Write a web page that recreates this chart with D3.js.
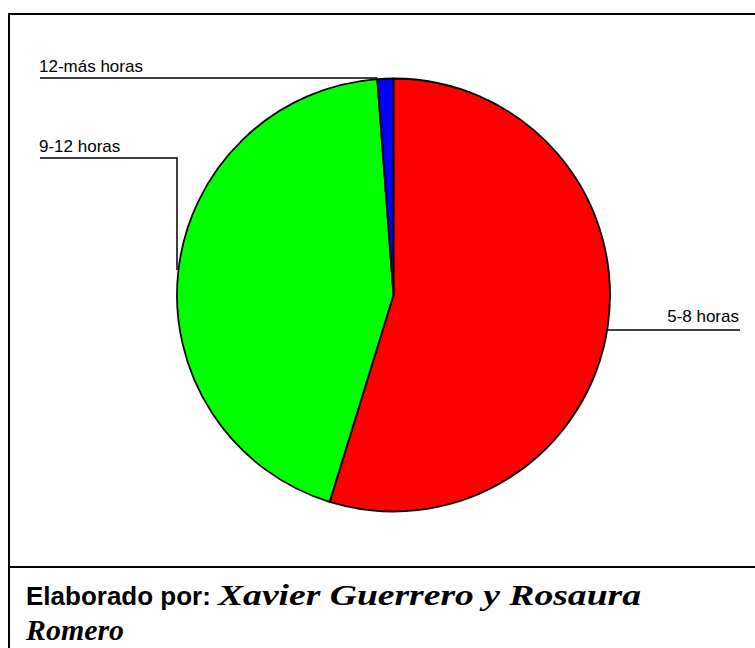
<!DOCTYPE html>
<html><head><meta charset="utf-8">
<script src="https://cdn.jsdelivr.net/npm/d3@7"></script>
<style>body{margin:0;background:#fff}svg{display:block}</style>
</head><body>
<svg id="c" width="755" height="648"></svg>
<script>
const categories = ["5-8 horas", "9-12 horas", "12-más horas"];
const values = [46, 37, 1];
const colors = ["#ff0000", "#00ff00", "#0000ff"];

const svg = d3.select("#c");
// frame
svg.append("line").attr("x1",9).attr("x2",755).attr("y1",14).attr("y2",14).attr("stroke","#000").attr("stroke-width",2);
svg.append("line").attr("x1",9).attr("x2",9).attr("y1",13).attr("y2",648).attr("stroke","#000").attr("stroke-width",2);
svg.append("line").attr("x1",8).attr("x2",755).attr("y1",567).attr("y2",567).attr("stroke","#000").attr("stroke-width",2);

const cx = 393.5, cy = 295, r = 216.5;
const pie = d3.pie().sort(null).value(d => d)(values);
const arc = d3.arc().innerRadius(0).outerRadius(r);
const g = svg.append("g").attr("transform", `translate(${cx},${cy})`);
g.selectAll("path").data(pie).join("path")
  .attr("d", arc)
  .attr("fill", (d,i) => colors[i])
  .attr("stroke", "#000").attr("stroke-width", 1.8).attr("stroke-linejoin","round");

// leader lines and labels
function edgePoint(a){ return [cx + r*Math.sin(a), cy - r*Math.cos(a)]; }
const lab = svg.append("g").attr("font-family","Arial, Liberation Sans, sans-serif").attr("font-size",17).attr("fill","#000");
// 12-más horas
const pBlue = edgePoint(pie[2].startAngle);
svg.append("line").attr("x1",40).attr("x2",pBlue[0]).attr("y1",78).attr("y2",78).attr("stroke","#000").attr("stroke-width",1.5);
lab.append("text").attr("x",39).attr("y",72).text(categories[2]);
// 9-12 horas
svg.append("polyline").attr("points",`40,158 177,158 177,270`).attr("fill","none").attr("stroke","#000").attr("stroke-width",1.5);
lab.append("text").attr("x",39).attr("y",152).text(categories[1]);
// 5-8 horas
svg.append("line").attr("x1",607).attr("x2",740).attr("y1",330).attr("y2",330).attr("stroke","#000").attr("stroke-width",1.5);
lab.append("text").attr("x",739).attr("y",322).attr("text-anchor","end").text(categories[0]);

// footer
svg.append("text").attr("x",26).attr("y",605).attr("font-family","Arial, Liberation Sans, sans-serif")
  .attr("font-weight","bold").attr("font-size",26).text("Elaborado por:");
svg.append("text").attr("x",218).attr("y",605).attr("font-family","Liberation Serif, DejaVu Serif, serif")
  .attr("font-style","italic").attr("font-weight","bold").attr("font-size",30)
  .attr("textLength",423).attr("lengthAdjust","spacingAndGlyphs").text("Xavier Guerrero y Rosaura");
svg.append("text").attr("x",26).attr("y",640).attr("font-family","Liberation Serif, DejaVu Serif, serif")
  .attr("font-style","italic").attr("font-weight","bold").attr("font-size",30)
  .attr("textLength",98).attr("lengthAdjust","spacingAndGlyphs").text("Romero");
</script>
</body></html>
